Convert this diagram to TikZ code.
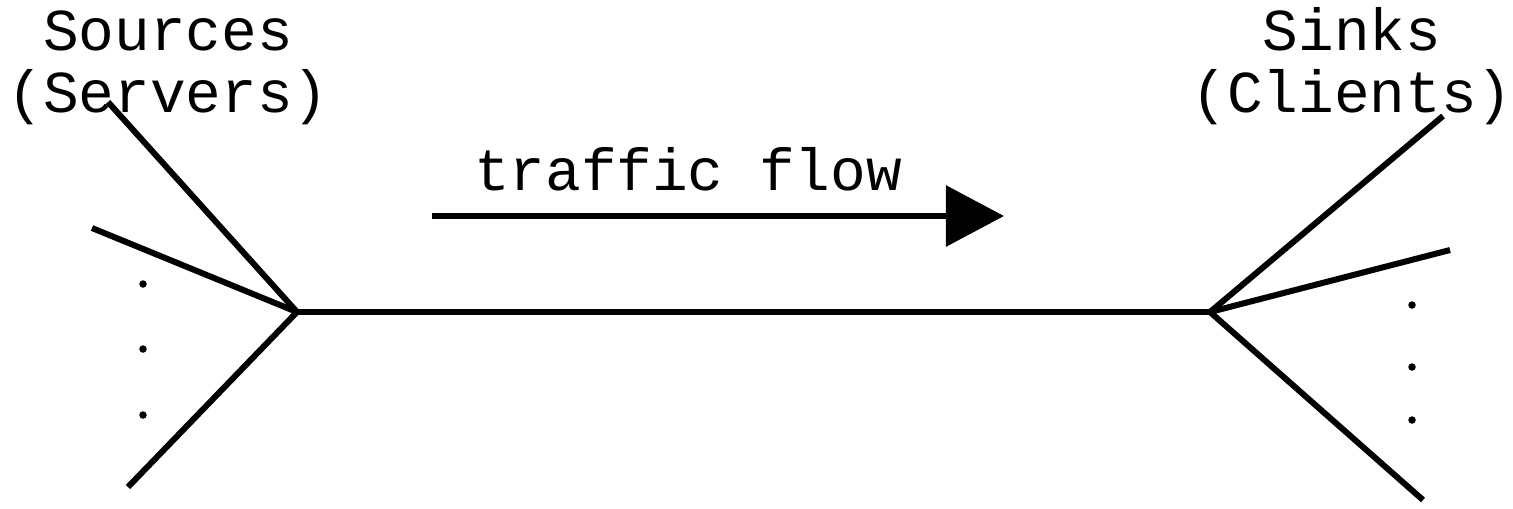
\documentclass[tikz,border=0pt]{standalone}
\usepackage{fontspec}
\setmonofont{Liberation Mono}
\usetikzlibrary{arrows.meta}
\begin{document}
\begin{tikzpicture}[x=0.01cm,y=-0.01cm,
  wire/.style={line width=0.06cm},
  lbl/.style={font=\ttfamily\fontsize{16.9}{17.6}\selectfont, inner sep=0pt, align=center},
  dotmark/.style={circle, fill=black, inner sep=0pt, minimum size=0.075cm}]
\useasboundingbox (0,0) rectangle (1513,508);
% hubs
\coordinate (L) at (297,312);
\coordinate (R) at (1210,312);
\coordinate (l1) at (108,102);
\coordinate (l2) at (92,228);
\coordinate (l3) at (128,487);
\coordinate (r1) at (1443,116);
\coordinate (r2) at (1450,250);
\coordinate (r3) at (1423,500);
\draw[wire] (L) -- (R);
\draw[wire] (L) -- (l1);
\draw[wire] (L) -- (l2);
\draw[wire] (L) -- (l3);
\draw[wire] (R) -- (r1);
\draw[wire] (R) -- (r2);
\draw[wire] (R) -- (r3);
% dots
\node[dotmark] (ld1) at (143,284) {};
\node[dotmark] (ld2) at (143,349) {};
\node[dotmark] (ld3) at (143,415) {};
\node[dotmark] (rd1) at (1412,305) {};
\node[dotmark] (rd2) at (1412,367) {};
\node[dotmark] (rd3) at (1412,420) {};
% labels
\node[lbl, anchor=base] (src) at (168,112) {Sources\\(Servers)};
\node[lbl, anchor=base] (snk) at (1352,112) {Sinks\\(Clients)};
\node[lbl, anchor=base] (tf) at (688,190) {traffic flow};
% arrow
\coordinate (a1) at (432,216);
\coordinate (a2) at (1004,216);
\draw[wire, -{Triangle[length=0.58cm,width=0.6cm]}] (a1) -- (a2);
\end{tikzpicture}
\end{document}
